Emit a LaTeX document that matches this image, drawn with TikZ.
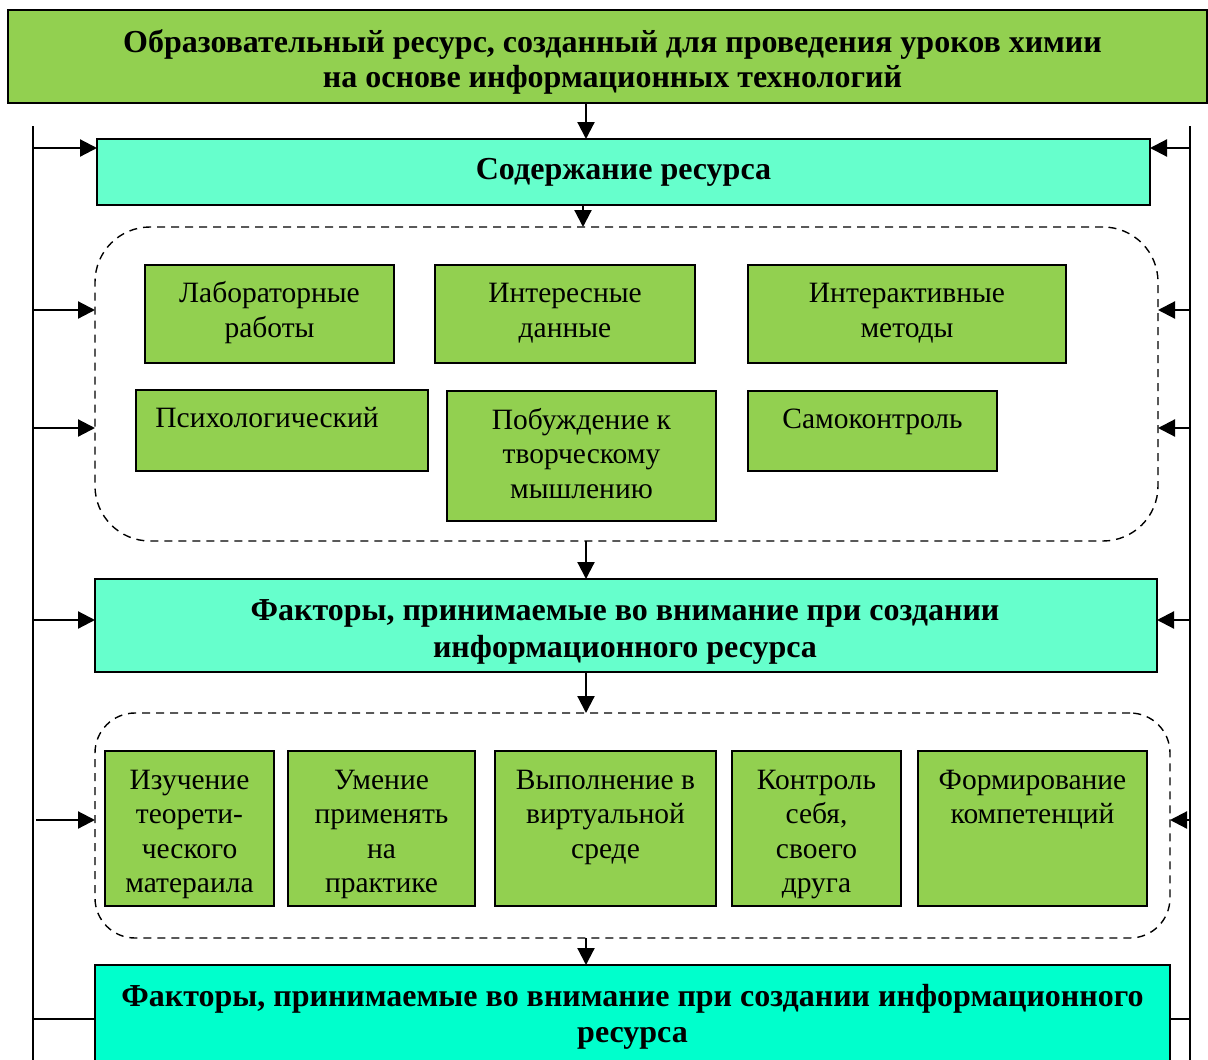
\documentclass[tikz,border=0pt]{standalone}
\usepackage{fontspec}
\setmainfont{Liberation Serif}
\usetikzlibrary{arrows.meta}
\definecolor{leaf}{HTML}{92D050}
\definecolor{mint}{HTML}{66FFCC}
\definecolor{aqua}{HTML}{00FFCC}
\tikzset{
  every node/.style={font=\fontsize{29.5}{34.5}\selectfont, inner sep=0pt, outer sep=0pt},
  box/.style={draw=black, line width=1.5pt, rectangle},
  leafbox/.style={box, fill=leaf},
  headbox/.style={box, fill=mint, font=\fontsize{32}{37}\selectfont\bfseries, align=center},
  group/.style={draw=black, line width=1.4pt, dash pattern=on 8pt off 6pt},
  lbl/.style={align=center, anchor=north},
  arr/.style={line width=2.2pt, -{Triangle[length=17pt,width=17pt]}},
  rail/.style={line width=1.8pt},
}
\begin{document}
\begin{tikzpicture}[x=1pt,y=-1pt]
\clip (0,0) rectangle (1208,1060);
\fill[white] (0,0) rectangle (1208,1060);

% title
\node[box, fill=leaf, line width=2pt, minimum width=1199pt, minimum height=93pt] (title) at (607.5,56.5) {};
\node[lbl, font=\fontsize{32}{35}\selectfont\bfseries] at ([xshift=5pt,yshift=-18pt]title.north)
  {\strut Образовательный ресурс, созданный для проведения уроков химии\\на основе информационных технологий};

% main column
\node[headbox, minimum width=1053pt, minimum height=66pt] (content) at (623.5,172) {};
\node[headbox, draw=none, fill=none] at (content.center) {Содержание ресурса};

\node[group, rounded corners=55pt, minimum width=1063pt, minimum height=314pt] (grp1) at (626.5,384) {};

\node[leafbox, minimum width=249pt, minimum height=98pt] (lab) at (269.5,314) {};
\node[lbl] at ([yshift=-13.5pt]lab.north) {\strut Лабораторные\\работы};
\node[leafbox, minimum width=260pt, minimum height=98pt] (facts) at (565,314) {};
\node[lbl] at ([yshift=-13.5pt]facts.north) {\strut Интересные\\данные};
\node[leafbox, minimum width=318pt, minimum height=98pt] (interact) at (907,314) {};
\node[lbl] at ([yshift=-13.5pt]interact.north) {\strut Интерактивные\\методы};
\node[leafbox, minimum width=292pt, minimum height=81pt] (psych) at (282,430.5) {};
\node[lbl] at ([xshift=-15pt,yshift=-13pt]psych.north) {\strut Психологический};
\node[leafbox, minimum width=269pt, minimum height=130pt] (creative) at (581.5,456) {};
\node[lbl] at ([yshift=-14pt]creative.north) {\strut Побуждение к\\творческому\\мышлению};
\node[leafbox, minimum width=249pt, minimum height=80pt] (selfctl) at (872.5,431) {};
\node[lbl] at ([yshift=-13.5pt]selfctl.north) {\strut Самоконтроль};

\node[headbox, minimum width=1062pt, minimum height=93pt] (factors) at (626,625.5) {};
\node[lbl, font=\fontsize{32}{37}\selectfont\bfseries] at ([xshift=-1pt,yshift=-16pt]factors.north)
  {\strut Факторы, принимаемые во внимание при создании\\информационного ресурса};

\node[group, rounded corners=40pt, minimum width=1075pt, minimum height=225pt] (grp2) at (632.5,825.5) {};

\node[leafbox, minimum width=169pt, minimum height=155pt] (theory) at (189.5,828.5) {};
\node[lbl] at ([yshift=-14pt]theory.north) {\strut Изучение\\теорети-\\ческого\\матераила};
\node[leafbox, minimum width=187pt, minimum height=155pt] (practice) at (381.5,828.5) {};
\node[lbl] at ([yshift=-14pt]practice.north) {\strut Умение\\применять\\на\\практике};
\node[leafbox, minimum width=221pt, minimum height=155pt] (virtual) at (605.5,828.5) {};
\node[lbl] at ([yshift=-14pt]virtual.north) {\strut Выполнение в\\виртуальной\\среде};
\node[leafbox, minimum width=169pt, minimum height=155pt] (peer) at (816.5,828.5) {};
\node[lbl] at ([yshift=-14pt]peer.north) {\strut Контроль\\себя,\\своего\\друга};
\node[leafbox, minimum width=229pt, minimum height=155pt] (skills) at (1032.5,828.5) {};
\node[lbl] at ([yshift=-14pt]skills.north) {\strut Формирование\\компетенций};

\node[box, fill=aqua, minimum width=1075pt, minimum height=120pt] (final) at (632.5,1025) {};
\node[lbl, font=\fontsize{32}{36}\selectfont\bfseries] at ([yshift=-16pt]final.north)
  {\strut Факторы, принимаемые во внимание при создании информационного\\ресурса};

% vertical flow
\coordinate (spine) at (586,0);
\coordinate (spine2) at (583,0);
\draw[arr] (spine |- title.south) -- (spine |- content.north);
\draw[arr] (spine2 |- content.south) -- (spine2 |- grp1.north);
\draw[arr] (spine |- grp1.south) -- (spine |- factors.north);
\draw[arr] (spine |- factors.south) -- (spine |- grp2.north);
\draw[arr] (spine |- grp2.south) -- (spine |- final.north);

% side rails
\coordinate (ltop) at (33,126);
\coordinate (lbot) at (33,1070);
\coordinate (rtop) at (1190,126);
\coordinate (rbot) at (1190,1070);
\draw[rail] (ltop) -- (lbot);
\draw[rail] (rtop) -- (rbot);

\coordinate (l1) at (33,148);  \coordinate (r1) at (1190,148);
\coordinate (l2) at (33,310);  \coordinate (r2) at (1190,310);
\coordinate (l3) at (33,428);  \coordinate (r3) at (1190,428);
\coordinate (l4) at (33,620);  \coordinate (r4) at (1190,620);
\coordinate (l5) at (36,820);  \coordinate (r5) at (1190,820);
\coordinate (l6) at (33,1019); \coordinate (r6) at (1190,1019);

\draw[arr] (l1) -- (l1 -| content.west);
\draw[arr] (r1) -- (r1 -| content.east);
\draw[arr] (l2) -- (l2 -| grp1.west);
\draw[arr] (r2) -- (r2 -| grp1.east);
\draw[arr] (l3) -- (l3 -| grp1.west);
\draw[arr] (r3) -- (r3 -| grp1.east);
\draw[arr] (l4) -- (l4 -| factors.west);
\draw[arr] (r4) -- (r4 -| factors.east);
\draw[arr] (l5) -- (l5 -| grp2.west);
\draw[arr] (r5) -- (r5 -| grp2.east);
\draw[rail] (l6) -- (l6 -| final.west);
\draw[rail] (r6) -- (r6 -| final.east);
\end{tikzpicture}
\end{document}
